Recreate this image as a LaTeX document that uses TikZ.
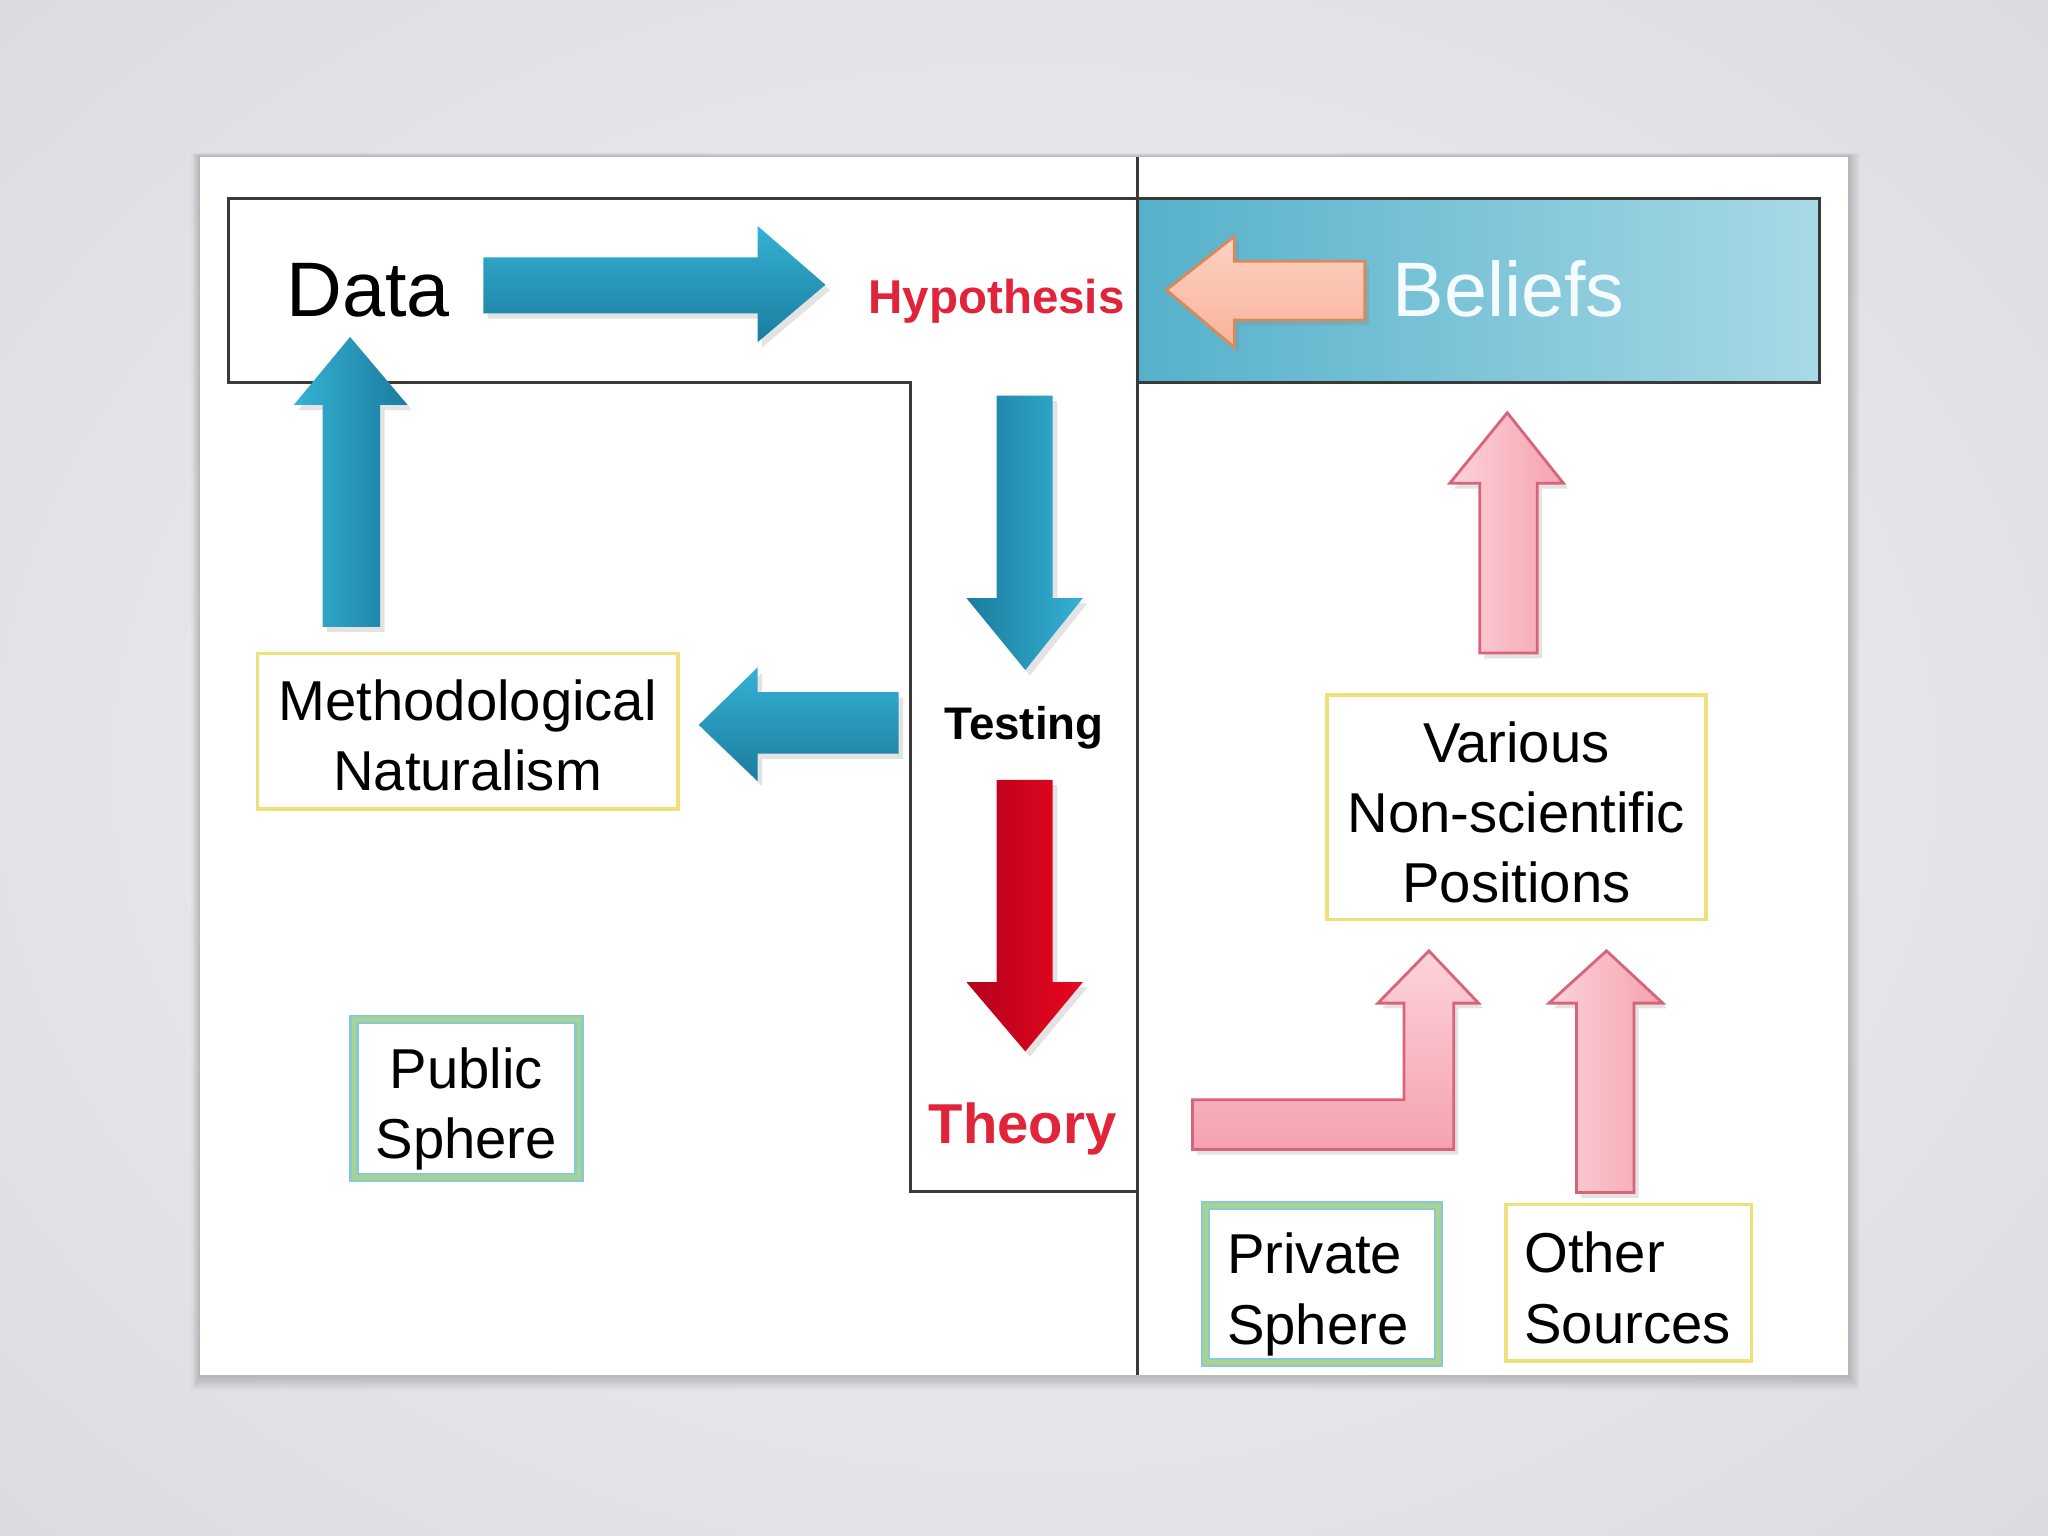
\documentclass[tikz,border=0pt]{standalone}
\usepackage{fontspec}
\setmainfont{Liberation Sans}
\usetikzlibrary{shadows}
\definecolor{bgout}{HTML}{DADCE1}
\definecolor{bgin}{HTML}{F3F4F6}
\definecolor{framec}{HTML}{3A3A3A}
\definecolor{bluedark}{HTML}{1A7C9E}
\definecolor{bluelight}{HTML}{35B2D4}
\definecolor{reddark}{HTML}{B5001C}
\definecolor{redlight}{HTML}{E8081F}
\definecolor{pinkfill}{HTML}{F5A2B0}
\definecolor{pinklight}{HTML}{FCD3D9}
\definecolor{pinkedge}{HTML}{D8647B}
\definecolor{peachfill}{HTML}{F9B29A}
\definecolor{peachlight}{HTML}{FDD2C3}
\definecolor{peachedge}{HTML}{D98A5A}
\definecolor{belL}{HTML}{55B1CA}
\definecolor{belR}{HTML}{A8D9E6}
\definecolor{yelbox}{HTML}{F0E07A}
\definecolor{sphout}{HTML}{86CAD9}
\definecolor{sphin}{HTML}{A9D38E}
\definecolor{hyred}{HTML}{E2243A}
\definecolor{belwhite}{HTML}{F5FCFE}
\tikzset{
  body/.style={font=\fontsize{16}{20}\selectfont, align=center, inner sep=0pt},
  ybox/.style={draw=yelbox, line width=1pt, fill=white, inner sep=0pt},
  sbox/.style={draw=sphout, double=sphin, double distance=1.3pt, line width=0.7pt, fill=white, inner sep=0pt},
  frameline/.style={draw=framec, line width=0.9pt},
  ashadow/.style={drop shadow={opacity=0.22, shadow xshift=1.3pt, shadow yshift=-1.5pt}},
  bluearrow/.style={ashadow},
  pinkarrow/.style={draw=pinkedge, line width=0.8pt, ashadow},
}
\begin{document}
\begin{tikzpicture}[x=0.013061cm, y=-0.013061cm]
\useasboundingbox (0,0) rectangle (1568,1176);
% background
\shade[inner color=bgin, outer color=bgout] (-300,-250) rectangle (1868,1426);
% slide shadow
\foreach \i in {1,...,8} {
  \fill[black, opacity=0.025] (153-\i*0.8,120-\i*0.4) rectangle (1415+\i*1.1,1053+\i*1.4);
}
% slide
\fill[white] (153,120) rectangle (1415,1053);

% Beliefs box
\shade[left color=belL, right color=belR] (871,152) rectangle (1393,293);
\draw[frameline] (871,152) rectangle (1393,293);

% left frame and divider
\draw[frameline] (871,152) -- (175,152) -- (175,293) -- (697,293) -- (697,912) -- (871,912);
\draw[frameline] (871,120) -- (871,1053);

% text nodes
\node[inner sep=0pt, font=\fontsize{22}{26}\selectfont] (data) at (282,222) {Data};
\node[inner sep=0pt, font=\fontsize{13.5}{16}\selectfont\bfseries, text=hyred] (hyp) at (763,231) {Hypothesis};
\node[inner sep=0pt, font=\fontsize{22}{26}\selectfont, text=belwhite] (bel) at (1155,221) {Beliefs};
\node[inner sep=0pt, font=\fontsize{13}{16}\selectfont\bfseries] (test) at (784,557) {Testing};
\node[inner sep=0pt, font=\fontsize{16}{20}\selectfont\bfseries, text=hyred] (theory) at (783,864) {Theory};

% boxes
\node[ybox, minimum width=4.206cm, minimum height=1.554cm] (mn) at (358,560) {};
\node[body] (mnt) at (358,563) {Methodological\\Naturalism};
\node[ybox, minimum width=3.788cm, minimum height=2.246cm] (vn) at (1161,618) {};
\node[body] (vnt) at (1161,622) {Various\\Non-scientific\\Positions};
\node[sbox, minimum width=2.25cm, minimum height=1.58cm] (pub) at (357,841) {};
\node[body] (pubt) at (357,849) {Public\\Sphere};
\node[sbox, minimum width=2.33cm, minimum height=1.57cm] (priv) at (1012,983) {};
\node[body, align=left] (privt) at (1009,991) {Private\\Sphere};
\node[ybox, minimum width=2.455cm, minimum height=1.567cm] (oth) at (1247,982) {};
\node[body, align=left] (otht) at (1246,986) {Other\\Sources};

% blue arrows
\shade[bluearrow, top color=bluelight, bottom color=bluedark]
  (370,197) -- (580,197) -- (580,173) -- (632,218) -- (580,262) -- (580,240) -- (370,240) -- cycle;
\shade[bluearrow, left color=bluelight, right color=bluedark]
  (247,480) -- (247,310) -- (225,310) -- (268,258) -- (312,310) -- (291,310) -- (291,480) -- cycle;
\shade[bluearrow, top color=bluelight, bottom color=bluedark]
  (688,530) -- (580,530) -- (580,511) -- (535,555) -- (580,598) -- (580,577) -- (688,577) -- cycle;
\shade[bluearrow, left color=bluedark, right color=bluelight]
  (763,303) -- (806,303) -- (806,458) -- (829,458) -- (785,513) -- (740,458) -- (763,458) -- cycle;
% red arrow
\shade[bluearrow, left color=reddark, right color=redlight]
  (763,597) -- (806,597) -- (806,752) -- (829,752) -- (785,805) -- (740,752) -- (763,752) -- cycle;

% peach arrow
\draw[draw=peachedge, line width=0.8pt, ashadow, top color=peachlight, bottom color=peachfill]
  (1045,200) -- (945,200) -- (945,181) -- (893,222) -- (945,266) -- (945,245) -- (1045,245) -- cycle;

% pink arrows
\draw[pinkarrow, left color=pinklight, right color=pinkfill]
  (1133,500) -- (1133,370) -- (1110,370) -- (1154,316) -- (1197,370) -- (1177,370) -- (1177,500) -- cycle;
\draw[pinkarrow, top color=pinklight, bottom color=pinkfill]
  (913,842) -- (1075,842) -- (1075,768) -- (1055,768) -- (1094,728) -- (1132,768) -- (1113,768) -- (1113,880) -- (913,880) -- cycle;
\draw[pinkarrow, left color=pinklight, right color=pinkfill]
  (1207,913) -- (1207,768) -- (1186,768) -- (1230,728) -- (1273,768) -- (1251,768) -- (1251,913) -- cycle;
\end{tikzpicture}
\end{document}
